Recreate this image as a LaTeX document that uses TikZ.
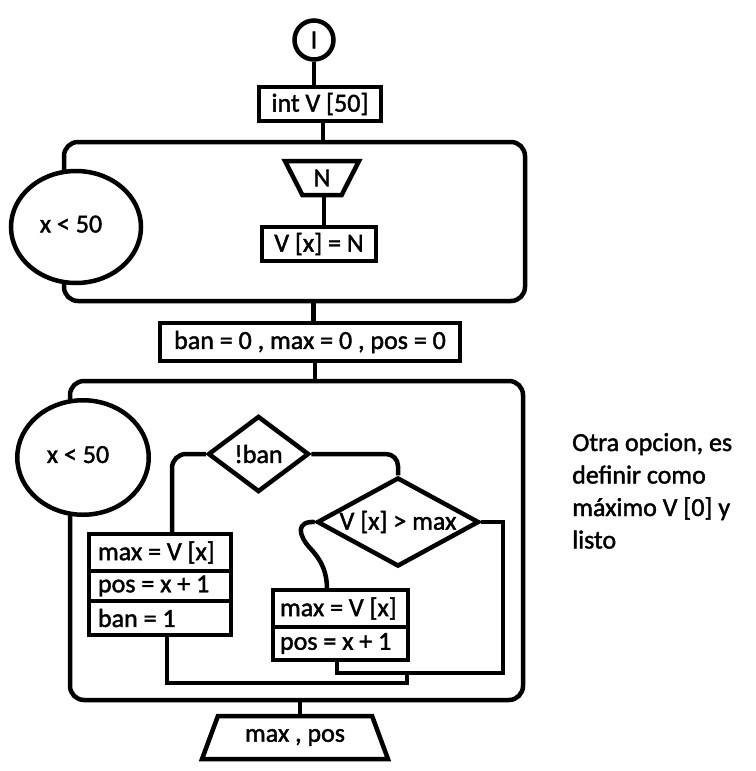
\documentclass[tikz,border=0pt]{standalone}
\usepackage{fontspec}
\setmainfont{Carlito}[FakeBold=1.6]
\usetikzlibrary{shapes.geometric}
\newcommand\rowtxt[2]{\makebox[#1][l]{#2}}
\newcommand\condtxt[1]{\kern-10pt\raisebox{6pt}{#1}}
\begin{document}
\begin{tikzpicture}[x=1pt,y=-1pt,
  every node/.style={font=\fontsize{26}{31}\selectfont},
  lw/.style={line width=4.5pt},
  cbox/.style={draw, lw, rectangle, inner sep=0pt},
  loopbox/.style={draw, lw, rectangle, rounded corners=14pt, inner sep=0pt},
  cond/.style={draw, lw, ellipse, fill=white, inner sep=0pt},
  dec/.style={draw, lw, diamond, inner sep=0pt},
  io/.style={draw, lw, trapezium, trapezium stretches=true, inner sep=0pt},
  rowbox/.style={draw, lw, rectangle, inner ysep=0pt, outer sep=0pt, anchor=north},
  conn/.style={lw}
]
\fill[white] (0,0) rectangle (755,771);
\useasboundingbox (0,0) rectangle (755,771);

% first block
\node[draw, lw, circle, minimum size=39pt, inner sep=0pt] (start) at (314,40) {I};
\node[cbox, minimum width=122pt, minimum height=34pt] (intv) at (320,104) {int V [50]};
\node[loopbox, minimum width=461pt, minimum height=159pt] (loop1) at (294.5,221.5) {};
\node[cond, minimum width=130pt, minimum height=112pt] (cond1) at (76,227) {\condtxt{x < 50}};
\node[io, shape border rotate=180, trapezium angle=66, minimum width=74pt, minimum height=34pt] (readN) at (322,178) {N};
\node[cbox, minimum width=114pt, minimum height=34pt] (setV) at (319,244) {V [x] = N};
\node[cbox, minimum width=300pt, minimum height=38pt] (init) at (310,342) {ban = 0 , max = 0 , pos = 0};

% second block
\node[loopbox, minimum width=453pt, minimum height=319pt] (loop2) at (296.5,540.5) {};
\node[cond, minimum width=131.5pt, minimum height=114.5pt] (cond2) at (83,457.5) {\condtxt{x < 50}};
\node[dec, minimum width=101pt, minimum height=76pt, aspect=1.33] (ban) at (258.5,454) {!ban};
\node[dec, minimum width=162pt, minimum height=89pt, aspect=1.82] (vx) at (398,522) {V [x] > max};

\node[rowbox, inner xsep=9pt, minimum height=37pt] (ls1) at (160,534) {\rowtxt{124pt}{max = V [x]}};
\node[rowbox, inner xsep=9pt, minimum height=30pt] (ls2) at (ls1.south) {\rowtxt{124pt}{pos = x + 1}};
\node[rowbox, inner xsep=9pt, minimum height=34pt] (ls3) at (ls2.south) {\rowtxt{124pt}{ban = 1}};

\node[rowbox, inner xsep=7pt, minimum height=37pt] (rs1) at (340.5,590) {\rowtxt{121pt}{max = V [x]}};
\node[rowbox, inner xsep=7pt, minimum height=33pt] (rs2) at (rs1.south) {\rowtxt{121pt}{pos = x + 1}};

\node[io, trapezium angle=58.5, minimum width=186pt, minimum height=43pt] (out) at (295,737.5) {max , pos};

% note
\node[anchor=base west, inner sep=0pt] (note1) at (572,451) {Otra opcion, es};
\node[anchor=base west, inner sep=0pt] (note2) at (572,483.5) {definir como};
\node[anchor=base west, inner sep=0pt] (note3) at (572,516) {máximo V [0] y};
\node[anchor=base west, inner sep=0pt] (note4) at (572,548.5) {listo};

% connectors
\draw[conn] (start.south) -- (start.south |- intv.north);
\draw[conn] ([xshift=3pt]intv.south) -- ([xshift=3pt]intv.south |- loop1.north);
\draw[conn] ([xshift=2pt]readN.south) -- ([xshift=2pt]readN.south |- setV.north);
\draw[conn] ([xshift=3.5pt]init.north) -- ([xshift=3.5pt]init.north |- loop1.south);
\draw[conn] ([xshift=5pt]init.south) -- ([xshift=5pt]init.south |- loop2.north);

\draw[conn, rounded corners=14pt] (ban.west) -| ([xshift=12pt]ls1.north);
\draw[conn, rounded corners=12pt] (ban.east) -| (vx.north);

\coordinate (vxmid) at (310,548);
\draw[conn] (vx.west) .. controls (296,521) and (298,535) .. (vxmid)
  .. controls (322,561) and (327,572) .. ([xshift=-13.5pt]rs1.north);

\coordinate (rj) at (503,673);
\draw[conn] (vx.east) -| (rj) -| ([xshift=-3.5pt]rs2.south);

\coordinate (lj) at (407,683);
\draw[conn] ([xshift=7pt]ls3.south) |- (lj) -- (lj |- rj);

\draw[conn] ([xshift=5pt]out.north) -- ([xshift=5pt]out.north |- loop2.south);
\end{tikzpicture}
\end{document}
